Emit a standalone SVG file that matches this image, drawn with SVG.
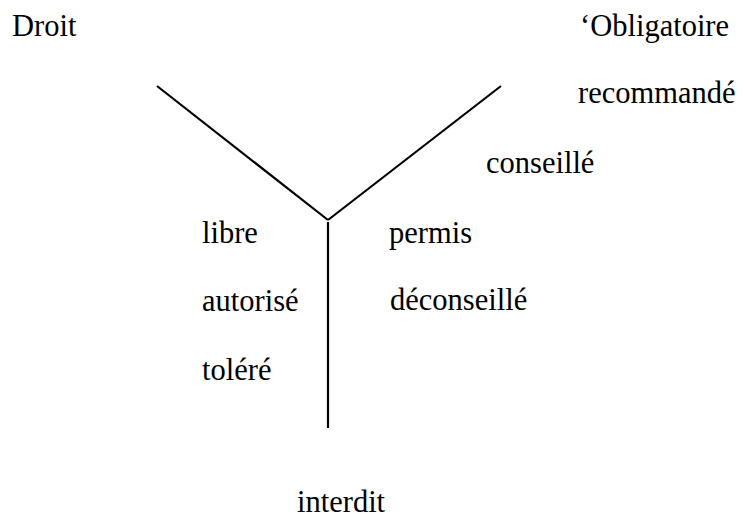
<svg xmlns="http://www.w3.org/2000/svg" width="744" height="521" viewBox="0 0 744 521">
<style>
text{font-family:"Liberation Serif","Times New Roman",serif;font-size:30.5px;fill:#000}
.ln{stroke:#000;stroke-width:2.2;fill:none}
</style>
<rect width="744" height="521" fill="#fff"/>
<g id="connectors">
<line class="ln" x1="157" y1="86" x2="328" y2="220"/>
<line class="ln" x1="501" y1="86" x2="328" y2="220"/>
<line class="ln" x1="328" y1="222" x2="328" y2="428"/>
</g>
<g id="droit"><text x="12" y="36">Droit</text></g>
<g id="obligatoire"><text x="580" y="36">‘Obligatoire</text></g>
<g id="recommande"><text x="578" y="103">recommandé</text></g>
<g id="conseille"><text x="486" y="173">conseillé</text></g>
<g id="libre"><text x="202" y="243">libre</text></g>
<g id="permis"><text x="389" y="243">permis</text></g>
<g id="autorise"><text x="202" y="311">autorisé</text></g>
<g id="deconseille"><text x="390" y="310">déconseillé</text></g>
<g id="tolere"><text x="202" y="380">toléré</text></g>
<g id="interdit"><text x="297" y="512">interdit</text></g>
</svg>
